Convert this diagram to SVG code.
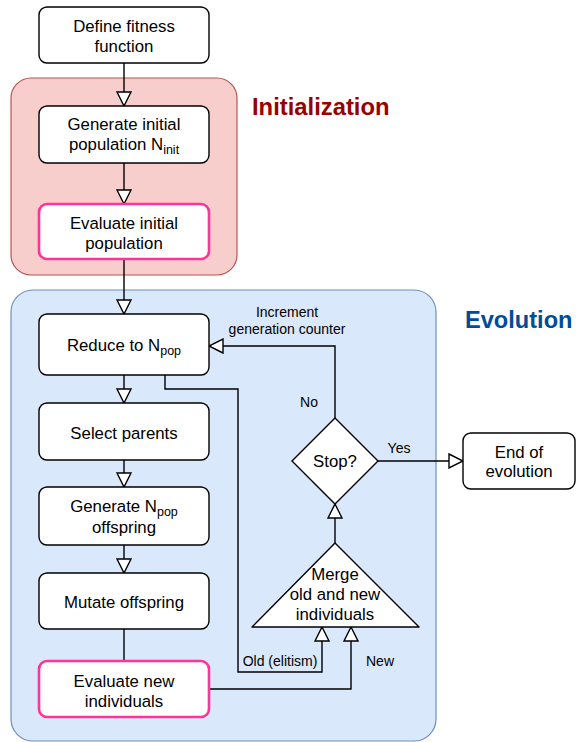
<svg xmlns="http://www.w3.org/2000/svg" width="576" height="742" viewBox="0 0 576 742">
<style>
text{font-family:"Liberation Sans",Arial,Helvetica,sans-serif;fill:#000}
.n{font-size:16.8px;text-anchor:middle}
.s{font-size:14px;text-anchor:middle}
.sub{font-size:12.5px}
.box{fill:#fff;stroke:#000;stroke-width:1.4}
.pink{fill:#fff;stroke:#ff3399;stroke-width:2.6}
.c{fill:none;stroke:#000;stroke-width:1.4}
.title{font-size:23.8px;font-weight:bold}
</style>
<defs>
<marker id="a" viewBox="0 0 16 16" refX="15" refY="8" markerWidth="16" markerHeight="16" markerUnits="userSpaceOnUse" orient="auto">
<path d="M1,1 L15,8 L1,15 Z" fill="#fff" stroke="#000" stroke-width="1.4" stroke-linejoin="miter"/>
</marker>
</defs>
<g id="initialization-group">
<rect x="11" y="78" width="226" height="197" rx="20" fill="#f8cecc" stroke="#b85450" stroke-width="1.2"/>
<text x="252" y="115" class="title" style="fill:#990000">Initialization</text>
</g>
<g id="evolution-group">
<rect x="11" y="290" width="425" height="451" rx="22" fill="#dae8fc" stroke="#6c8ebf" stroke-width="1.2"/>
<text x="465" y="328" class="title" style="fill:#004c99;font-size:23.6px">Evolution</text>
</g>
<g id="connectors">
<path class="c" d="M124,63 V106" marker-end="url(#a)"/>
<path class="c" d="M124,163 V204" marker-end="url(#a)"/>
<path class="c" d="M124,259 V314" marker-end="url(#a)"/>
<path class="c" d="M124,375 V403" marker-end="url(#a)"/>
<path class="c" d="M124,460 V487" marker-end="url(#a)"/>
<path class="c" d="M124,545 V573" marker-end="url(#a)"/>
<path class="c" d="M124,629 V661"/>
<path class="c" d="M165,375 V389 H238 V672 H322 V627" marker-end="url(#a)"/>
<path class="c" d="M209,689 H351 V627" marker-end="url(#a)"/>
<path class="c" d="M335,543 V504" marker-end="url(#a)"/>
<path class="c" d="M335,418 V346 H209" marker-end="url(#a)"/>
<path class="c" d="M378,461 H463" marker-end="url(#a)"/>
<text x="287" y="317" class="s">Increment</text>
<text x="287" y="334" class="s">generation counter</text>
<text x="309" y="407" class="s">No</text>
<text x="399" y="453" class="s">Yes</text>
<text x="280" y="666" class="s">Old (elitism)</text>
<text x="380" y="666" class="s">New</text>
</g>
<g id="define">
<rect class="box" x="39" y="7" width="170" height="56" rx="8"/>
<text x="124" y="32" class="n">Define fitness</text>
<text x="124" y="52" class="n">function</text>
</g>
<g id="generate-initial">
<rect class="box" x="39" y="106" width="170" height="57" rx="8"/>
<text x="124" y="130" class="n">Generate initial</text>
<text x="124" y="150" class="n">population N<tspan class="sub" dy="4">init</tspan></text>
</g>
<g id="evaluate-initial">
<rect class="pink" x="39" y="204" width="170" height="55" rx="8"/>
<text x="124" y="229" class="n">Evaluate initial</text>
<text x="124" y="249" class="n">population</text>
</g>
<g id="reduce">
<rect class="box" x="39" y="314" width="170" height="61" rx="8"/>
<text x="124" y="351" class="n">Reduce to N<tspan class="sub" dy="4">pop</tspan></text>
</g>
<g id="select">
<rect class="box" x="39" y="403" width="170" height="57" rx="8"/>
<text x="124" y="439" class="n">Select parents</text>
</g>
<g id="generate-offspring">
<rect class="box" x="39" y="487" width="170" height="58" rx="8"/>
<text x="124" y="512" class="n">Generate N<tspan class="sub" dy="4">pop</tspan></text>
<text x="124" y="533" class="n">offspring</text>
</g>
<g id="mutate">
<rect class="box" x="39" y="573" width="170" height="56" rx="8"/>
<text x="124" y="608" class="n">Mutate offspring</text>
</g>
<g id="evaluate-new">
<rect class="pink" x="39" y="661" width="170" height="56" rx="8"/>
<text x="124" y="687" class="n">Evaluate new</text>
<text x="124" y="707" class="n">individuals</text>
</g>
<g id="stop">
<path class="box" d="M335,418 L378,461 L335,504 L292,461 Z"/>
<text x="335" y="467" class="n">Stop?</text>
</g>
<g id="merge">
<path class="box" stroke-linejoin="round" d="M335,543 L419,627 L252,627 Z"/>
<text x="335" y="580" class="n">Merge</text>
<text x="335" y="600" class="n">old and new</text>
<text x="335" y="620" class="n">individuals</text>
</g>
<g id="end">
<rect class="box" x="463" y="433" width="112" height="56" rx="8"/>
<text x="519" y="458" class="n">End of</text>
<text x="519" y="477" class="n">evolution</text>
</g>
</svg>
